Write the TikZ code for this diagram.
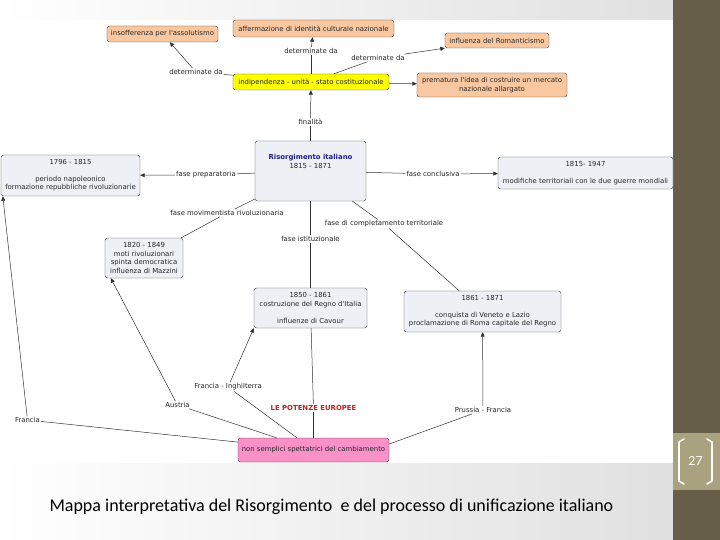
\documentclass[tikz,border=0pt]{standalone}
\usepackage{fontspec}
\usetikzlibrary{arrows.meta}
\newfontfamily\cmapfont{DejaVu Sans}
\newfontfamily\slidefont{Carlito}
\definecolor{cmorange}{RGB}{250,200,160}
\definecolor{cmyellow}{RGB}{255,255,0}
\definecolor{cmblue}{RGB}{237,241,245}
\definecolor{cmpink}{RGB}{247,145,200}
\definecolor{cmtitle}{RGB}{30,30,150}
\definecolor{cmred}{RGB}{200,30,30}
\definecolor{sidebar}{RGB}{102,94,72}
\definecolor{numbox}{RGB}{168,162,126}
\tikzset{
  concept/.style={draw=black!75, rounded corners=2.5pt, align=center, inner sep=1pt,
    font=\cmapfont\fontsize{6.9}{8.4}\selectfont, text=black!85},
  orangebox/.style={concept, fill=cmorange},
  yellowbox/.style={concept, fill=cmyellow},
  bluebox/.style={concept, fill=cmblue},
  pinkbox/.style={concept, fill=cmpink},
  linklbl/.style={inner sep=1pt, align=center, text=black!85,
    font=\cmapfont\fontsize{6.9}{8.4}\selectfont},
  link/.style={black!80, line width=0.5pt},
  linkarrow/.style={link, -{Triangle[length=4.5pt,width=4pt]}},
  bracket/.style={white, line width=1.6pt, line cap=round}
}
\begin{document}
\begin{tikzpicture}[x=1pt,y=-1pt]
\useasboundingbox (0,0) rectangle (720,540);
% slide background
\shade[left color=white, right color=black!12] (0,0) rectangle (673,540);
\fill[white] (0,20) rectangle (673,463);
\fill[sidebar] (673,0) rectangle (720,540);
\fill[numbox] (673,433) rectangle (720,490);
\draw[bracket] (684,439) -- (679,442) -- (679,481) -- (684,484);
\draw[bracket] (707,439) -- (712,442) -- (712,481) -- (707,484);
\node[text=white, font=\slidefont\fontsize{14}{16}\selectfont] (pnum) at (695.5,461) {27};

% concepts
\node[orangebox, minimum width=111pt, minimum height=16pt] (ins) at (162.5,34) {insofferenza per l'assolutismo};
\node[orangebox, minimum width=161pt, minimum height=17pt] (aff) at (313.5,28.5) {affermazione di identità culturale nazionale};
\node[orangebox, minimum width=104pt, minimum height=15pt] (rom) at (497,40.5) {influenza del Romanticismo};
\node[yellowbox, minimum width=156pt, minimum height=16pt] (ind) at (311,82) {indipendenza - unità - stato costituzionale};
\node[orangebox, minimum width=150pt, minimum height=24pt] (mer) at (492,85) {prematura l'idea di costruire un mercato\\nazionale allargato};
\node[bluebox, minimum width=111pt, minimum height=60pt] (ris) at (310.5,171) {};
\node[linklbl] (ristxt) at (310.5,161.5) {\textcolor{cmtitle}{\bfseries Risorgimento italiano}\\1815 - 1871};
\node[bluebox, minimum width=139pt, minimum height=41pt] (nap) at (70.5,175.5) {1796 - 1815\\[8.4pt]periodo napoleonico\\formazione repubbliche rivoluzionarie};
\node[bluebox, minimum width=175pt, minimum height=32pt] (gue) at (585.5,173) {1815- 1947\\[8.4pt]modifiche territoriali con le due guerre mondiali};
\node[bluebox, minimum width=78pt, minimum height=40pt] (mot) at (144,258) {1820 - 1849\\moti rivoluzionari\\spinta democratica\\influenza di Mazzini};
\node[bluebox, minimum width=113pt, minimum height=40pt] (cav) at (310.5,308) {1850 - 1861\\costruzione del Regno d'Italia\\[8.4pt]influenze di Cavour};
\node[bluebox, minimum width=157pt, minimum height=41pt] (ven) at (482.5,311.5) {1861 - 1871\\[8.4pt]conquista di Veneto e Lazio\\proclamazione di Roma capitale del Regno};
\node[pinkbox, minimum width=151pt, minimum height=24pt] (spe) at (313.5,450) {non semplici spettatrici del cambiamento};

% linking phrases
\node[linklbl] (det1) at (196,72) {determinate da};
\node[linklbl] (det2) at (311,51) {determinate da};
\node[linklbl] (det3) at (378,58) {determinate da};
\node[linklbl] (fin) at (310.5,122) {finalità};
\node[linklbl] (prep) at (206,175) {fase preparatoria};
\node[linklbl] (concl) at (433,174) {fase conclusiva};
\node[linklbl] (mov) at (227,213) {fase movimentista rivoluzionaria};
\node[linklbl] (ist) at (310.5,239) {fase istituzionale};
\node[linklbl] (comp) at (384,224) {fase di completamento territoriale};
\node[linklbl, text=cmred, font=\cmapfont\bfseries\fontsize{6.9}{8.4}\selectfont] (pot) at (313.5,408) {LE POTENZE EUROPEE};
\node[linklbl] (prus) at (483,410) {Prussia - Francia};
\node[linklbl] (ingh) at (228,387) {Francia - Inghilterra};
\node[linklbl] (aus) at (177.5,405) {Austria};
\node[linklbl] (fra) at (27.5,420) {Francia};

% connectors
\draw[link] (ind) -- (det1);
\draw[linkarrow] (det1) -- (ins);
\draw[link] (ind) -- (det2);
\draw[linkarrow] (det2) -- (aff);
\draw[link] (ind) -- (det3);
\draw[linkarrow] (det3) -- (rom);
\draw[linkarrow] (ind) -- (mer);
\draw[link] (ris) -- (fin);
\draw[linkarrow] (fin) -- (ind);
\draw[link] (ris) -- (prep);
\draw[linkarrow] (prep) -- (nap);
\draw[link] (ris) -- (concl);
\draw[linkarrow] (concl) -- (gue);
\draw[link] (ris) -- (mov);
\draw[link] (mov) -- (mot);
\draw[link] (ris) -- (ist);
\draw[link] (ist) -- (cav);
\draw[link] (ris) -- (comp);
\draw[link] (comp) -- (ven);
\draw[link] (spe) -- (pot);
\draw[link] (pot) -- (cav);
\draw[link] ([yshift=6pt]spe.east) -- (prus);
\draw[linkarrow] (prus) -- (ven);
\draw[link] (spe) -- (ingh);
\draw[linkarrow] (ingh) -- (cav.south west);
\draw[link] (spe) -- (aus);
\draw[linkarrow] (aus) -- ([xshift=6pt]mot.south west);
\draw[link] (spe) -- (fra);
\draw[linkarrow] (fra) -- ([xshift=2pt]nap.south west);

% caption
\node[anchor=west, font=\slidefont\fontsize{18}{21}\selectfont] (cap) at (46,507) {Mappa interpretativa del Risorgimento\ \ e del processo di unificazione italiano};
\end{tikzpicture}
\end{document}
